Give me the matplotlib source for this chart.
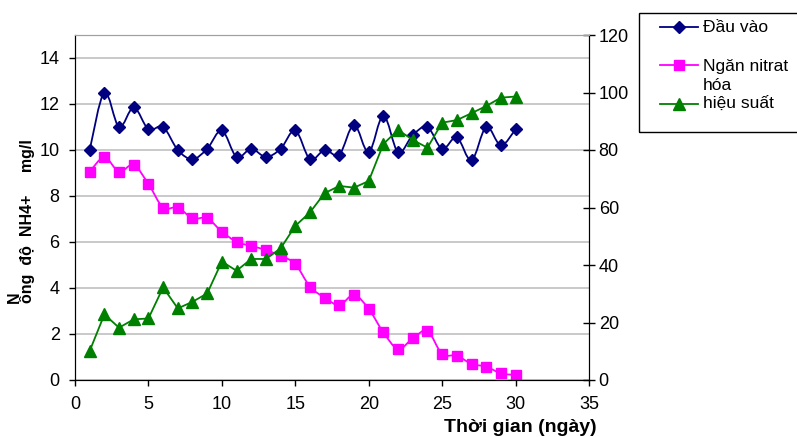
import matplotlib.pyplot as plt
from matplotlib.path import Path
from matplotlib.patches import PathPatch, Rectangle
from matplotlib.lines import Line2D

plt.rcParams['font.family'] = ['Liberation Sans', 'DejaVu Sans']

# data
days = list(range(1, 31))
dau_vao = [10.0, 12.5, 11.0, 11.85, 10.9, 11.0, 10.0, 9.6, 10.05, 10.85,
           9.7, 10.05, 9.7, 10.05, 10.85, 9.6, 10.0, 9.8, 11.1, 9.9,
           11.5, 9.9, 10.65, 11.0, 10.05, 10.55, 9.55, 11.0, 10.2, 10.9]
ngan_nitrat = [9.06, 9.68, 9.06, 9.35, 8.52, 7.5, 7.5, 7.03, 7.03, 6.45,
               6.01, 5.83, 5.65, 5.4, 5.04, 4.06, 3.58, 3.26, 3.7, 3.09,
               2.07, 1.35, 1.81, 2.13, 1.13, 1.06, 0.7, 0.58, 0.29, 0.22]
hieu_suat = [10.1, 22.8, 18.2, 21.1, 21.4, 32.2, 24.9, 27.2, 30.1, 41.2,
             38.0, 42.1, 42.1, 45.8, 53.6, 58.3, 65.0, 67.5, 66.9, 69.2,
             82.1, 87.0, 83.5, 80.8, 89.5, 90.4, 92.8, 95.3, 98.2, 98.6]
labels = ['Đầu vào', 'Ngăn nitrat\nhóa', 'hiệu suất']

BLUE = '#000080'
PINK = '#FF00FF'
GREEN = '#008000'
W, H = 797, 437


def smooth_path(xs, ys):
    """Excel-like smoothed line as cubic Bezier segments through the points."""
    verts = [(xs[0], ys[0])]
    codes = [Path.MOVETO]
    n = len(xs)
    for i in range(n - 1):
        x0, y0 = xs[max(i - 1, 0)], ys[max(i - 1, 0)]
        x1, y1 = xs[i], ys[i]
        x2, y2 = xs[i + 1], ys[i + 1]
        x3, y3 = xs[min(i + 2, n - 1)], ys[min(i + 2, n - 1)]
        c1 = (x1 + (x2 - x0) / 6, y1 + (y2 - y0) / 6)
        c2 = (x2 - (x3 - x1) / 6, y2 - (y3 - y1) / 6)
        verts += [c1, c2, (x2, y2)]
        codes += [Path.CURVE4] * 3
    return Path(verts, codes)


def fy(py):
    # pixel row (from top) to figure fraction
    return 1 - py / H


fig = plt.figure(figsize=(W / 100, H / 100), dpi=100)
ax = fig.add_axes([75 / W, 57 / H, (589 - 75) / W, (380 - 35) / H])
ax2 = ax.twinx()

ax.set_xlim(0, 35)
ax.set_ylim(0, 15)
ax.set_xticks(range(0, 36, 5))
ax.set_yticks(range(0, 15, 2))
ax2.set_ylim(0, 120)
ax2.set_yticks(range(0, 121, 20))

ax.yaxis.grid(True, color='#c0c0c0', linewidth=1.2)
ax.set_axisbelow(True)

# blue and pink are smoothed lines
ax.add_patch(PathPatch(smooth_path(days, dau_vao), fill=False, edgecolor=BLUE, linewidth=1.3))
ax.plot(days, dau_vao, linestyle='none', marker='D', markersize=6.5, color=BLUE)
ax.add_patch(PathPatch(smooth_path(days, ngan_nitrat), fill=False, edgecolor=PINK, linewidth=1.3))
ax.plot(days, ngan_nitrat, linestyle='none', marker='s', markersize=6.5, color=PINK)
ax2.plot(days, hieu_suat, marker='^', markersize=8, color=GREEN, linewidth=1.3)

for a in (ax, ax2):
    a.spines['top'].set_color('#a0a0a0')
    a.spines['left'].set_color('black')
    a.spines['bottom'].set_color('black')
    a.spines['right'].set_color('black')

ax.tick_params(axis='both', direction='out', length=4.5, width=1, labelsize=13, pad=6.5)
ax.tick_params(axis='x', pad=7)
ax2.tick_params(axis='y', direction='inout', length=8, width=1, labelsize=13, pad=3)

fig.text(520 / W, fy(427), 'Thời gian (ngày)', ha='center', va='center',
         fontsize=14, fontweight='bold')
fig.text(21 / W, fy(303), 'N\nồng  độ  NH4+     mg/l', rotation=90, ha='center', va='bottom',
         multialignment='left', linespacing=0.8, fontsize=11.5, fontweight='bold')

# legend drawn by hand to copy the odd layout
fig.patches.append(Rectangle((639 / W, fy(132)), 170 / W, 119 / H, transform=fig.transFigure,
                             fill=False, edgecolor='black', linewidth=1, clip_on=False))
legend_rows = [(27, BLUE, 'D', 6.5), (65, PINK, 's', 6.5), (104, GREEN, '^', 8)]
for (py, col, mk, ms) in legend_rows:
    fig.lines.append(Line2D([660 / W, 698 / W], [fy(py)] * 2, transform=fig.transFigure,
                            color=col, linewidth=1.3))
    fig.lines.append(Line2D([679 / W], [fy(py)], transform=fig.transFigure,
                            color=col, marker=mk, markersize=ms, linestyle='none'))
first, second = labels[1].split('\n')
for py, txt in [(27, labels[0]), (66, first), (86, second), (103, labels[2])]:
    fig.text(703 / W, fy(py), txt, ha='left', va='center', fontsize=12.5)

fig.savefig('out.png', dpi=100)
